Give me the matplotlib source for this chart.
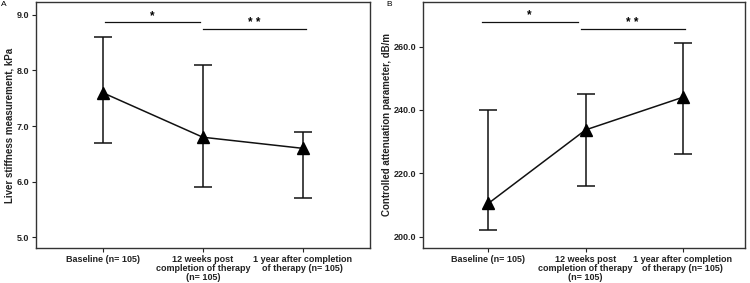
import matplotlib
matplotlib.use("Agg")
import matplotlib.pyplot as plt
import numpy as np

plt.rcParams['font.family'] = ['Liberation Sans', 'DejaVu Sans']

categories = ["Baseline (n= 105)",
              "12 weeks post\ncompletion of therapy\n(n= 105)",
              "1 year after completion\nof therapy (n= 105)"]

# panel A: liver stiffness
lsm_mean = [7.6, 6.8, 6.6]
lsm_upper = [8.6, 8.1, 6.9]
lsm_lower = [6.7, 5.9, 5.7]
lsm_ticks = [5.0, 6.0, 7.0, 8.0, 9.0]

# panel B: CAP
cap_mean = [210.5, 233.7, 244.0]
cap_upper = [240.0, 245.0, 261.0]
cap_lower = [202.0, 216.0, 226.0]
cap_ticks = [200.0, 220.0, 240.0, 260.0]

# significance brackets: (x0, x1, y, label)
lsm_sig = [(0.02, 0.97, 8.87, "*"), (1.0, 2.03, 8.74, "* *")]
cap_sig = [(-0.07, 0.92, 267.9, "*"), (0.95, 2.02, 265.6, "* *")]

fig = plt.figure(figsize=(7.5, 2.83), dpi=100)
axA = fig.add_axes([0.0476, 0.1237, 0.4457, 0.8693])
axB = fig.add_axes([0.5644, 0.1237, 0.4289, 0.8693])


def draw(ax, mean, upper, lower, ticks, ylim, sig, ylabel, xlim):
    x = np.arange(len(mean))
    mean = np.array(mean)
    yerr = [mean - np.array(lower), np.array(upper) - mean]
    ax.errorbar(x, mean, yerr=yerr, fmt='none', ecolor='#111111',
                elinewidth=1.1, capsize=6.5, capthick=1.1)
    ax.plot(x, mean, color='#111111', lw=1.1, marker='^', ms=9,
            markerfacecolor='black', markeredgecolor='black')
    for x0, x1, y, lab in sig:
        ax.plot([x0, x1], [y, y], color='#111111', lw=0.9)
        ax.text((x0 + x1) / 2, y, lab, ha='center', va='bottom',
                fontsize=8.5, fontweight='bold')
    ax.set_xlim(*xlim)
    ax.set_ylim(*ylim)
    ax.set_yticks(ticks)
    ax.set_yticklabels(["%.1f" % t for t in ticks], fontsize=6.5,
                       fontweight='bold', color='#222222')
    ax.set_xticks(x)
    ax.set_xticklabels(categories, fontsize=6.5, fontweight='bold',
                       color='#222222', linespacing=1.0)
    ax.set_ylabel(ylabel, fontsize=7, fontweight='bold', color='#222222',
                  labelpad=1.5)
    ax.tick_params(direction='out', length=3, width=0.8, colors='#222222',
                   pad=2)
    for s in ax.spines.values():
        s.set_color('#333333')
        s.set_linewidth(1.0)


draw(axA, lsm_mean, lsm_upper, lsm_lower, lsm_ticks, (4.81, 9.23), lsm_sig,
     "Liver stiffness measurement, kPa", (-0.67, 2.67))
draw(axB, cap_mean, cap_upper, cap_lower, cap_ticks, (196.4, 274.1), cap_sig,
     "Controlled attenuation parameter, dB/m", (-0.67, 2.64))

fig.text(0.001, 0.997, "A", fontsize=6, va='top', ha='left')
fig.text(0.515, 0.997, "B", fontsize=6, va='top', ha='left')

fig.savefig("out.png", dpi=100)
